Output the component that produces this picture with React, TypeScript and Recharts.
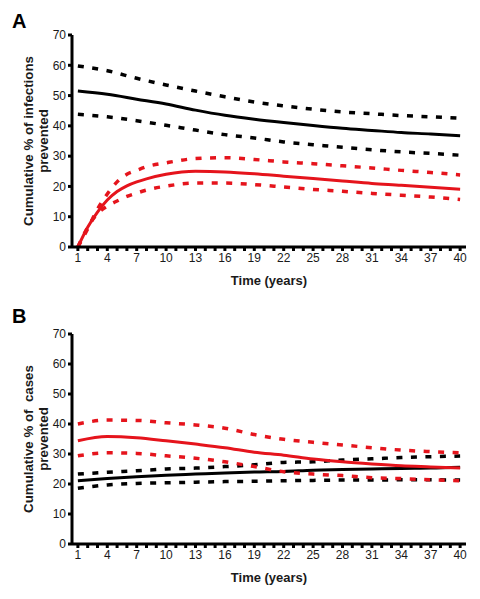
import React from 'react';
import { LineChart, Line, XAxis, YAxis, Label } from 'recharts';

// Panel A: years sampled more densely early on where the red curves rise fast
const yearsA = [1, 2, 3, 4, 5, 6, 7, 8, 10, 13, 16, 19, 22, 25, 28, 31, 34, 37, 40];
const aBlack = [51.5, null, null, 50.4, null, null, 48.8, null, 47.2, 45.2, 43.5, 42.2, 41.1, 40.1, 39.2, 38.5, 37.8, 37.3, 36.7];
const aBlackHi = [59.8, null, null, 58.2, null, null, 55.7, null, 53.5, 51.5, 49.6, 47.9, 46.6, 45.5, 44.6, 44.0, 43.4, 43.0, 42.5];
const aBlackLo = [43.8, null, null, 43.0, null, null, 41.7, null, 40.2, 38.6, 37.1, 36.0, 34.7, 33.8, 32.9, 32.1, 31.4, 30.9, 30.3];
const aRed = [0, 6.5, 11.5, 15.5, 18.3, 20.2, 21.5, 22.5, 24.0, 25.0, 24.8, 24.2, 23.4, 22.6, 21.8, 21.0, 20.4, 19.7, 19.1];
const aRedHi = [0, 6.0, 12.5, 17.5, 21.5, 24.0, 25.3, 26.5, 27.8, 29.2, 29.5, 28.9, 28.1, 27.5, 26.8, 26.1, 25.3, 24.6, 23.8];
const aRedLo = [0, 6.5, 11.0, 13.5, 15.2, 16.7, 17.8, 18.8, 20.1, 21.1, 21.1, 20.6, 19.8, 19.0, 18.4, 17.7, 17.1, 16.5, 15.7];

// Panel B
const yearsB = [1, 4, 7, 10, 13, 16, 19, 22, 25, 28, 31, 34, 37, 40];
const bRed = [34.4, 35.8, 35.4, 34.4, 33.3, 32.1, 30.6, 29.6, 28.3, 27.4, 26.7, 26.1, 25.7, 25.3];
const bRedHi = [40.0, 41.3, 41.2, 40.4, 39.7, 38.6, 36.5, 34.9, 33.9, 33.0, 32.1, 31.3, 30.8, 30.4];
const bRedLo = [29.4, 30.4, 30.2, 29.4, 28.6, 27.4, 25.8, 24.1, 23.3, 22.8, 22.1, 21.8, 21.4, 21.1];
const bBlack = [21.1, 21.8, 22.4, 22.9, 23.3, 23.7, 24.0, 24.2, 24.6, 24.8, 25.0, 25.2, 25.3, 25.6];
const bBlackHi = [23.3, 23.9, 24.4, 25.0, 25.3, 25.8, 26.4, 27.2, 27.4, 28.0, 28.4, 28.8, 29.1, 29.3];
const bBlackLo = [18.6, 19.7, 20.2, 20.4, 20.6, 20.8, 20.9, 21.1, 21.2, 21.3, 21.3, 21.4, 21.4, 21.3];

const labelledYears = [1, 4, 7, 10, 13, 16, 19, 22, 25, 28, 31, 34, 37, 40];
const yTicks = [0, 10, 20, 30, 40, 50, 60, 70];
const allYears = Array.from({ length: 40 }, (_, i) => i + 1);

const FONT = '"Liberation Sans", Arial, sans-serif';
const RED = '#e5141c';
const DASH = '6 8.5';

const XTick = (props: any) => {
  const { x, y, payload } = props;
  if (!labelledYears.includes(payload.value)) return <g />;
  return (
    <text x={x} y={y} dy="0.71em" textAnchor="middle" fontSize={12} fontFamily={FONT} fill="#1a1a1a">
      {payload.value}
    </text>
  );
};

const YTitle = ({ lines, cy }: { lines: string[]; cy: number }) => (
  <text
    transform={`rotate(-90, 33, ${cy})`}
    x={33}
    y={cy}
    textAnchor="middle"
    fontSize={13.3}
    fontWeight="bold"
    fontFamily={FONT}
    fill="#1a1a1a"
    style={{ whiteSpace: 'pre' }}
  >
    <tspan x={33} y={cy}>{lines[0]}</tspan>
    <tspan x={33} y={cy + 14.5}>{lines[1]}</tspan>
  </text>
);

interface PanelProps {
  data: any[];
  height: number;
  bottom: number;
  yLines: string[];
}

const Panel: React.FC<PanelProps> = ({ data, height, bottom, yLines }) => {
  const plotTop = 35;
  const plotBottom = height - bottom - 40;
  const cy = (plotTop + plotBottom) / 2;
  return (
    <LineChart width={480} height={height} data={data} margin={{ top: plotTop, right: 14, bottom, left: 0 }}>
      <XAxis
        dataKey="year"
        type="number"
        domain={[0.4, 40.6]}
        ticks={allYears}
        interval={0}
        tick={XTick}
        tickSize={4}
        height={40}
        axisLine={{ stroke: '#000', strokeWidth: 3 }}
        tickLine={{ stroke: '#000', strokeWidth: 3 }}
      >
        <Label
          content={() => (
            <text x={269} y={plotBottom + 38} textAnchor="middle" fontSize={13} fontWeight="bold" fontFamily={FONT} fill="#1a1a1a">
              Time (years)
            </text>
          )}
        />
      </XAxis>
      <YAxis
        type="number"
        domain={[0, 70]}
        ticks={yTicks}
        interval={0}
        width={72}
        tickSize={4}
        tick={{ fontSize: 12, fontFamily: FONT, fill: '#1a1a1a' }}
        axisLine={{ stroke: '#000', strokeWidth: 3 }}
        tickLine={{ stroke: '#000', strokeWidth: 3 }}
      >
        <Label content={() => <YTitle lines={yLines} cy={cy} />} />
      </YAxis>
      <Line dataKey="blackHi" stroke="#000" strokeWidth={3.5} strokeDasharray={DASH} type="monotone" dot={false} activeDot={false} connectNulls isAnimationActive={false} />
      <Line dataKey="blackLo" stroke="#000" strokeWidth={3.5} strokeDasharray={DASH} type="monotone" dot={false} activeDot={false} connectNulls isAnimationActive={false} />
      <Line dataKey="black" stroke="#000" strokeWidth={3} type="monotone" dot={false} activeDot={false} connectNulls isAnimationActive={false} />
      <Line dataKey="redHi" stroke={RED} strokeWidth={3.5} strokeDasharray={DASH} type="monotone" dot={false} activeDot={false} connectNulls isAnimationActive={false} />
      <Line dataKey="redLo" stroke={RED} strokeWidth={3.5} strokeDasharray={DASH} type="monotone" dot={false} activeDot={false} connectNulls isAnimationActive={false} />
      <Line dataKey="red" stroke={RED} strokeWidth={3} type="monotone" dot={false} activeDot={false} connectNulls isAnimationActive={false} />
    </LineChart>
  );
};

const letterStyle: React.CSSProperties = {
  position: 'absolute',
  left: 12,
  fontFamily: FONT,
  fontWeight: 'bold',
  fontSize: 20,
  lineHeight: '20px',
  color: '#000',
};

export default function App() {
  const dataA = yearsA.map((year, i) => ({
    year,
    black: aBlack[i],
    blackHi: aBlackHi[i],
    blackLo: aBlackLo[i],
    red: aRed[i],
    redHi: aRedHi[i],
    redLo: aRedLo[i],
  }));
  const dataB = yearsB.map((year, i) => ({
    year,
    black: bBlack[i],
    blackHi: bBlackHi[i],
    blackLo: bBlackLo[i],
    red: bRed[i],
    redHi: bRedHi[i],
    redLo: bRedLo[i],
  }));

  return (
    <div style={{ position: 'absolute', left: 0, top: 0, width: 480, height: 599, background: '#fff' }}>
      <div style={{ ...letterStyle, top: 11 }}>A</div>
      <div style={{ ...letterStyle, top: 306 }}>B</div>
      <div style={{ position: 'absolute', left: 0, top: 0 }}>
        <Panel data={dataA} height={299} bottom={12} yLines={['Cumulative % of infections', 'prevented']} />
      </div>
      <div style={{ position: 'absolute', left: 0, top: 299 }}>
        <Panel data={dataB} height={300} bottom={15} yLines={['Cumulative % of  cases', 'prevented']} />
      </div>
    </div>
  );
}
